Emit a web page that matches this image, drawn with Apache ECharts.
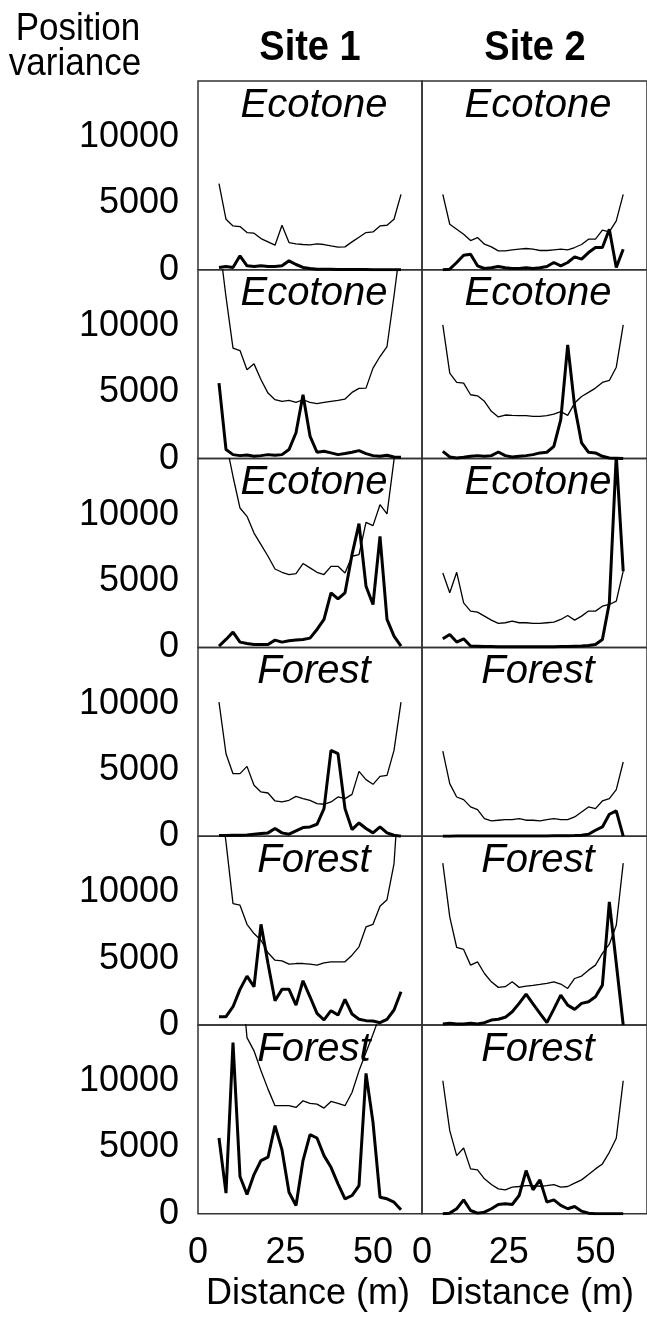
<!DOCTYPE html>
<html>
<head>
<meta charset="utf-8">
<script src="https://cdn.jsdelivr.net/npm/echarts@6/dist/echarts.min.js"></script>
<style>
  html, body { margin: 0; padding: 0; background: #fff; }
  #chart { width: 647px; height: 1318px; }
</style>
</head>
<body>
<div id="chart"></div>
<script>
// Sampling positions along the transect (m)
const distance = [6, 8, 10, 12, 14, 16, 18, 20, 22, 24, 26, 28, 30, 32, 34, 36, 38, 40, 42, 44, 46, 48, 50, 52, 54, 56, 58];

// Column headers, panel labels and tick labels
const siteNames = ['Site 1', 'Site 2'];
const rowHabitats = ['Ecotone', 'Ecotone', 'Ecotone', 'Forest', 'Forest', 'Forest'];
const yTicks = [0, 5000, 10000];
const xTicks = [0, 25, 50];

// Site 1 — observed position variance (thick) and envelope (thin), one pair per row
const s1r1Obs = [175, 250, 175, 1054, 300, 250, 300, 250, 250, 300, 678, 400, 175, 100, 50, 50, 40, 30, 30, 20, 20, 20, 10, 10, 10, 10, 10];
const s1r1Env = [6500, 3815, 3313, 3263, 2811, 2761, 2359, 2108, 1857, 3363, 2058, 1958, 1908, 1883, 1958, 1908, 1807, 1707, 1732, 2108, 2460, 2811, 2861, 3313, 3363, 3815, 5698];
const s1r2Obs = [5700, 680, 300, 225, 275, 175, 225, 300, 250, 300, 680, 1950, 4820, 1700, 480, 550, 430, 300, 380, 480, 600, 380, 225, 175, 250, 125, 100];
const s1r2Env = [16500, 12200, 8333, 8158, 6700, 7150, 5950, 4945, 4443, 4317, 4393, 4242, 4443, 4242, 4141, 4242, 4317, 4393, 4493, 4995, 5296, 5321, 6827, 7706, 8459, 12270, 16400];
const s1r3Obs = [100, 600, 1150, 400, 300, 225, 225, 225, 550, 400, 500, 550, 600, 700, 1355, 2110, 4120, 3660, 4120, 7000, 9340, 4620, 3240, 8380, 2110, 850, 100];
const s1r3Env = [18000, 15500, 12900, 10520, 9890, 8630, 7760, 6880, 5920, 5670, 5500, 5570, 6330, 6000, 5670, 5500, 6120, 6120, 5620, 6880, 7000, 9440, 9190, 10770, 10070, 14150, 18000];
const s1r4Obs = [50, 50, 75, 75, 100, 150, 200, 250, 580, 250, 150, 400, 650, 700, 900, 2080, 6475, 6225, 2080, 500, 1000, 580, 250, 700, 250, 75, 0];
const s1r4Env = [10115, 6225, 4720, 4720, 5270, 3840, 3340, 3260, 2660, 2585, 2710, 3010, 2840, 2710, 2460, 2410, 2585, 2960, 2840, 3160, 4890, 4270, 3915, 4520, 4590, 6475, 10115];
const s1r5Obs = [630, 630, 1380, 2690, 3690, 2890, 7600, 4640, 1830, 2690, 2690, 1500, 3340, 2130, 880, 380, 1080, 750, 1930, 830, 430, 330, 300, 175, 430, 1130, 2510];
const s1r5Env = [18000, 13800, 9160, 9040, 7600, 6900, 6400, 5450, 4890, 4840, 4590, 4640, 4640, 4590, 4520, 4690, 4770, 4770, 4770, 5270, 5900, 7400, 7600, 8960, 9460, 12170, 20000];
const s1r6Obs = [5720, 1560, 12930, 2810, 1460, 2960, 4020, 4270, 6650, 4820, 1630, 630, 4020, 5970, 5720, 4390, 3510, 2260, 1130, 1380, 2130, 10600, 6900, 1255, 1130, 880, 300];
const s1r6Env = [30000, 26000, 22000, 19000, 13300, 12300, 10790, 9410, 8160, 8160, 8160, 8030, 8530, 8330, 8280, 7980, 8480, 8330, 8160, 9160, 10790, 12170, 13550, 15000, 18000, 22000, 28000];

// Site 2 — observed position variance (thick) and envelope (thin)
const s2r1Obs = [0, 50, 550, 1100, 1180, 300, 100, 150, 250, 150, 100, 100, 150, 100, 150, 250, 550, 300, 550, 980, 800, 1300, 1680, 1680, 3060, 175, 1550];
const s2r1Env = [5698, 3439, 3062, 2686, 2209, 2435, 1933, 1732, 1431, 1431, 1506, 1556, 1606, 1556, 1456, 1456, 1506, 1556, 1506, 1682, 1908, 2309, 2309, 2987, 2861, 3690, 5698];
const s2r2Obs = [550, 125, 50, 100, 175, 225, 175, 225, 500, 225, 125, 175, 225, 300, 430, 480, 930, 2940, 8580, 3940, 1180, 480, 430, 175, 50, 25, 0];
const s2r2Env = [10090, 6450, 5750, 5700, 4820, 4740, 4320, 3565, 3140, 3290, 3260, 3240, 3240, 3190, 3190, 3240, 3360, 3540, 3260, 4190, 4690, 4995, 5320, 5750, 5900, 6900, 10090];
const s2r3Obs = [650, 980, 400, 650, 100, 80, 60, 60, 50, 50, 50, 40, 40, 40, 40, 50, 50, 60, 60, 80, 100, 150, 225, 600, 3360, 14500, 5750];
const s2r3Env = [5620, 4120, 5670, 3360, 2740, 2660, 2360, 2060, 1810, 1860, 1980, 1860, 1860, 1810, 1810, 1860, 1910, 2110, 2410, 2060, 2360, 2740, 2740, 3110, 3240, 3490, 5750];
const s2r4Obs = [0, 0, 10, 10, 20, 20, 20, 20, 20, 20, 20, 20, 20, 20, 20, 20, 30, 30, 40, 50, 75, 150, 450, 700, 1655, 1910, 0];
const s2r4Env = [6425, 3965, 2960, 2760, 2210, 2010, 1330, 1155, 1205, 1255, 1255, 1330, 1205, 1205, 1155, 1255, 1330, 1255, 1255, 1455, 1830, 2210, 2080, 2660, 2840, 3515, 5600];
const s2r5Obs = [75, 125, 75, 75, 125, 75, 175, 375, 430, 580, 1000, 1630, 2330, 1600, 880, 175, 1200, 2260, 1500, 1180, 1630, 1760, 2130, 3010, 9290, 4640, 0];
const s2r5Env = [12220, 8160, 5850, 5700, 4520, 4770, 3890, 3260, 2840, 2890, 3260, 2840, 2940, 2990, 3060, 3140, 3260, 3090, 2760, 3510, 3690, 4140, 4520, 5400, 6100, 7530, 12220];
const s2r6Obs = [0, 50, 380, 1050, 250, 50, 125, 380, 700, 750, 700, 1380, 3260, 1810, 2560, 880, 1050, 630, 380, 550, 200, 50, 0, 0, 0, 0, 0];
const s2r6Env = [10040, 6275, 4390, 4970, 3390, 3310, 2640, 2210, 1880, 1810, 2010, 2060, 2130, 2130, 2080, 2130, 2210, 2010, 2060, 2310, 2560, 2960, 3390, 3765, 4640, 5700, 10040];

const panels = [
  [[s1r1Obs, s1r1Env], [s2r1Obs, s2r1Env]],
  [[s1r2Obs, s1r2Env], [s2r2Obs, s2r2Env]],
  [[s1r3Obs, s1r3Env], [s2r3Obs, s2r3Env]],
  [[s1r4Obs, s1r4Env], [s2r4Obs, s2r4Env]],
  [[s1r5Obs, s1r5Env], [s2r5Obs, s2r5Env]],
  [[s1r6Obs, s1r6Env], [s2r6Obs, s2r6Env]]
];

// Layout
const FONT = '"Liberation Sans", Arial, sans-serif';
const rowTop0 = 81, rowPitch = 188.8;
const colLeft = [198, 422];
const colWidth = [224, 227];
const pxPerMetre = 3.5;
const yMax = 14250;

const grids = [], xAxes = [], yAxes = [], series = [], graphics = [];

// Text placed at (x, y), optionally stretched vertically around its middle
function label(text, x, y, font, scaleY) {
  return {
    type: 'text', x: x, y: y, scaleY: scaleY || 1, z: 10,
    style: { text: text, x: 0, y: 0, font: font, fill: '#000', align: 'center', verticalAlign: 'middle' }
  };
}

panels.forEach((row, r) => {
  row.forEach((pair, c) => {
    const idx = grids.length;
    const isBottom = r === panels.length - 1;
    grids.push({
      left: colLeft[c], top: rowTop0 + r * rowPitch,
      width: colWidth[c], height: rowPitch,
      show: true, borderColor: '#333', borderWidth: 1.5, backgroundColor: 'transparent'
    });
    xAxes.push({
      type: 'value', gridIndex: idx, min: 0, max: colWidth[c] / pxPerMetre, interval: 25,
      axisLine: { show: false }, axisTick: { show: false }, splitLine: { show: false },
      axisLabel: {
        show: isBottom, margin: 21, color: '#000', fontFamily: FONT, fontSize: 36,
        showMaxLabel: false,
        formatter: v => (xTicks.includes(v) ? String(v) : '')
      }
    });
    yAxes.push({
      type: 'value', gridIndex: idx, min: 0, max: yMax, interval: 5000,
      axisLine: { show: false }, axisTick: { show: false }, splitLine: { show: false },
      axisLabel: {
        show: c === 0, margin: 19, color: '#000', fontFamily: FONT, fontSize: 36,
        showMaxLabel: false,
        formatter: v => (yTicks.includes(v) ? String(v) : '')
      }
    });
    const [obs, env] = pair;
    series.push({
      type: 'line', xAxisIndex: idx, yAxisIndex: idx, symbol: 'none', clip: true,
      data: distance.map((d, i) => [d, env[i]]),
      lineStyle: { color: '#000', width: 1.3 }, z: 2
    });
    series.push({
      type: 'line', xAxisIndex: idx, yAxisIndex: idx, symbol: 'none', clip: true,
      data: distance.map((d, i) => [d, obs[i]]),
      lineStyle: { color: '#000', width: 3 }, z: 3
    });
    graphics.push(label(rowHabitats[r], colLeft[c] + 116, rowTop0 + r * rowPitch + 24.5, 'italic 40px ' + FONT));
  });
});

// Column headers and axis titles
siteNames.forEach((name, c) => {
  graphics.push(label(name, [310, 535][c], 48, 'bold 38px ' + FONT, 1.12));
  graphics.push(label('Distance (m)', [308, 532][c], 1294, '36px ' + FONT));
});
graphics.push(label('Position', 78, 29, '35px ' + FONT, 1.1));
graphics.push(label('variance', 75, 64, '35px ' + FONT, 1.1));

const chart = echarts.init(document.getElementById('chart'), null, { renderer: 'canvas' });
chart.setOption({
  animation: false,
  backgroundColor: '#fff',
  grid: grids, xAxis: xAxes, yAxis: yAxes, series: series,
  graphic: graphics
});
</script>
</body>
</html>
